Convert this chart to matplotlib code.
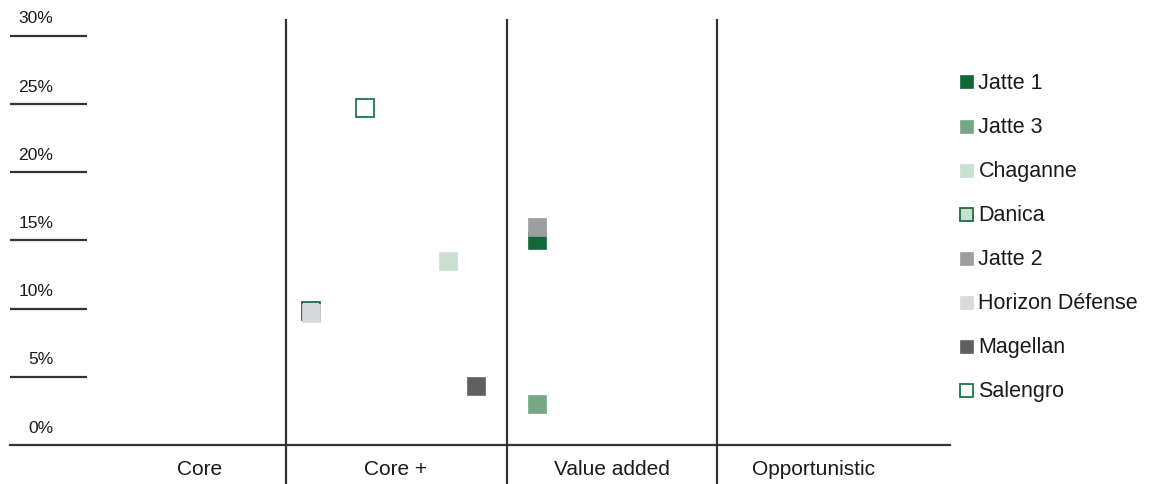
import matplotlib
matplotlib.use("Agg")
import matplotlib.pyplot as plt
import matplotlib.transforms as mtransforms

plt.rcParams['font.family'] = ['Liberation Sans', 'DejaVu Sans']

# ---- data ----
series_names = ["Jatte 1", "Jatte 3", "Chaganne", "Danica", "Jatte 2",
                "Horizon Défense", "Magellan", "Salengro"]
series_x = [56.1, 56.1, 46.6, 32.0, 56.1, 32.0, 49.6, 37.8]      # risk position (0-100 scale)
series_y = [15.05, 3.0, 13.5, 9.8, 16.0, 9.65, 4.3, 24.7]          # return, %
series_face = ["#106a38", "#77a886", "#c9dfcf", "#c9dfcf", "#9d9ea0",
               "#d8d9db", "#5f6062", "#ffffff"]
series_edge = ["#106a38", "#77a886", "#c9dfcf", "#1f6b3e", "#9d9ea0",
               "#d8d9db", "#5f6062", "#1a7a45"]

categories = ["Core", "Core +", "Value added", "Opportunistic"]
category_label_x = [20.2, 41.0, 64.0, 85.5]
category_edges = [29.4, 52.9, 75.2]

y_ticks = [0, 5, 10, 15, 20, 25, 30]
y_tick_labels = ["0%", "5%", "10%", "15%", "20%", "25%", "30%"]

# ---- figure ----
W, H = 1151, 484
fig = plt.figure(figsize=(W / 100, H / 100), dpi=100)
ax = fig.add_axes([10 / W, 39 / H, 940 / W, 409.3 / H])
ax.set_xlim(0, 100)
ax.set_ylim(0, 30)
for s in ["top", "right", "left"]:
    ax.spines[s].set_visible(False)
ax.spines["bottom"].set_color("#333333")
ax.spines["bottom"].set_linewidth(1.6)
ax.set_xticks([])
ax.set_yticks([])

line_col = "#333333"
blend_ax_x = mtransforms.blended_transform_factory(ax.transAxes, ax.transData)
blend_data_x = mtransforms.blended_transform_factory(ax.transData, ax.transAxes)

# short horizontal gridline stubs + labels
for v, lab in zip(y_ticks, y_tick_labels):
    if v != 0:
        ax.plot([0, 0.082], [v, v], color=line_col, lw=1.6, transform=blend_ax_x,
                clip_on=False, solid_capstyle="butt")
    ax.annotate(lab, xy=(0.046, v), xycoords=blend_ax_x, xytext=(0, 8.9),
                textcoords="offset points", ha="right", va="baseline",
                fontsize=12.6, color="#1a1a1a")

# vertical category separators
for e in category_edges:
    ax.plot([e, e], [-0.0953, 1.0408], color=line_col, lw=1.6,
            transform=blend_data_x, clip_on=False, solid_capstyle="butt")

# category labels
for cx, c in zip(category_label_x, categories):
    ax.text(cx, -0.061, c, transform=blend_data_x, ha="center", va="center",
            fontsize=15, color="#1a1a1a")

# points
for name, x, y, fc, ec in zip(series_names, series_x, series_y, series_face, series_edge):
    mew = 1.3 if name in ("Salengro", "Danica") else 0.5
    ax.plot([x], [y], linestyle="none", marker="s", markersize=13.0,
            markerfacecolor=fc, markeredgecolor=ec, markeredgewidth=mew,
            label=name, clip_on=False)

leg = ax.legend(loc="upper left", bbox_to_anchor=(958 / W, 1 - 73 / H),
                bbox_transform=fig.transFigure, frameon=False, fontsize=15.5,
                markerscale=0.72, handlelength=0.7, handletextpad=0.25,
                labelspacing=1.07, borderpad=0, borderaxespad=0)
for t in leg.get_texts():
    t.set_color("#1a1a1a")

fig.savefig("out.png", dpi=100)
